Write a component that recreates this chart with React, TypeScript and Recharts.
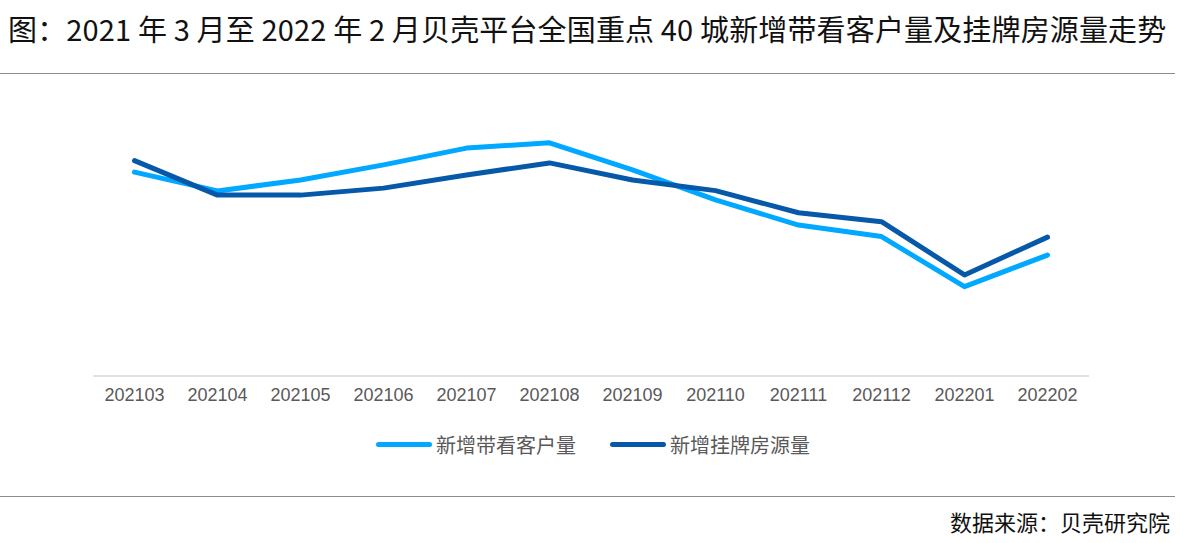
import React from "react";
import { LineChart, Line, XAxis, YAxis, Legend } from "recharts";

const months = ["202103","202104","202105","202106","202107","202108","202109","202110","202111","202112","202201","202202"];
const viewers = [72.8, 66.1, 70.0, 75.4, 81.4, 83.3, 73.6, 62.9, 53.9, 49.8, 31.9, 43.2];
const listings = [76.9, 64.6, 64.6, 67.1, 71.8, 76.1, 70.0, 66.2, 58.3, 55.1, 36.1, 49.6];
const seriesNames = ["新增带看客户量", "新增挂牌房源量"];
const seriesColors = ["#00A9FF", "#0659A9"];
const title = "图：2021 年 3 月至 2022 年 2 月贝壳平台全国重点 40 城新增带看客户量及挂牌房源量走势";
const source = "数据来源：贝壳研究院";

const data = months.map((m, i) => ({ month: m, viewers: viewers[i], listings: listings[i] }));

const cjk = '"Noto Sans CJK SC", "Noto Sans", sans-serif';

const LegendContent = (props: any) => {
  const { payload } = props;
  return (
    <div style={{ display: "flex", justifyContent: "center", gap: 34, fontFamily: cjk, fontSize: 20, color: "#595959" }}>
      {(payload || []).map((p: any) => (
        <div key={p.value} style={{ display: "flex", alignItems: "center" }}>
          <div style={{ width: 56, height: 5, borderRadius: 3, background: p.color, marginRight: 4 }} />
          <span>{p.value}</span>
        </div>
      ))}
    </div>
  );
};

export default function App() {
  return (
    <div style={{ position: "absolute", left: 0, top: 0, width: 1186, height: 543, background: "#fff", overflow: "hidden" }}>
      <div style={{ position: "absolute", left: 8, top: 8, fontFamily: cjk, fontSize: 29, letterSpacing: 0.15, color: "#111", whiteSpace: "nowrap", lineHeight: "40px" }}>{title}</div>
      <div style={{ position: "absolute", left: 0, top: 73, width: 1175, height: 1, background: "#8c8c8c" }} />
      <div style={{ position: "absolute", left: 0, top: 0 }}>
        <LineChart width={1186} height={543} data={data} margin={{ top: 96, right: 97, bottom: 137, left: 93 }}>
          <XAxis
            dataKey="month"
            height={30}
            tickLine={false}
            padding={{ left: 41.5, right: 41.5 }}
            axisLine={{ stroke: "#D9D9D9", strokeWidth: 1.5 }}
            tick={{ fill: "#595959", fontSize: 18, fontFamily: "Liberation Sans, Arial, sans-serif" }}
            tickMargin={6}
            interval={0}
          />
          <YAxis hide domain={[0, 100]} />
          <Legend
            layout="horizontal"
            verticalAlign="middle"
            align="center"
            content={<LegendContent />}
            wrapperStyle={{ position: "absolute", top: 430, left: 0, width: 1186, height: 30 }}
          />
          <Line type="linear" dataKey="viewers" name={seriesNames[0]} stroke={seriesColors[0]} strokeWidth={5} dot={false} activeDot={false} strokeLinecap="round" strokeLinejoin="round" isAnimationActive={false} />
          <Line type="linear" dataKey="listings" name={seriesNames[1]} stroke={seriesColors[1]} strokeWidth={5} dot={false} activeDot={false} strokeLinecap="round" strokeLinejoin="round" isAnimationActive={false} />
        </LineChart>
      </div>
      <div style={{ position: "absolute", left: 0, top: 496, width: 1175, height: 1, background: "#8c8c8c" }} />
      <div style={{ position: "absolute", right: 16, top: 506, fontFamily: cjk, fontSize: 22, color: "#111", whiteSpace: "nowrap", lineHeight: "30px" }}>{source}</div>
    </div>
  );
}
